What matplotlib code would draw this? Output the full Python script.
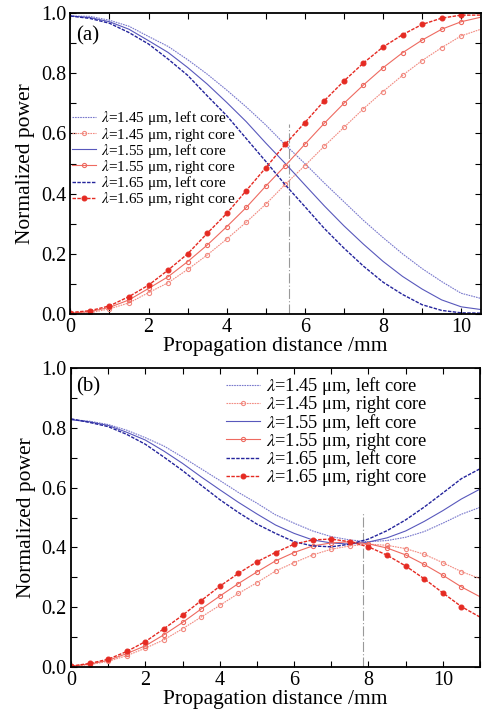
import matplotlib
matplotlib.use("Agg")
import matplotlib.pyplot as plt
import numpy as np

plt.rcParams["font.family"] = ["Liberation Serif", "DejaVu Serif"]
plt.rcParams["mathtext.fontset"] = "stix"

# ---- panel (a) data: normalized power vs propagation distance (mm)
dist_a = np.arange(0, 10.51, 0.5)
right_145_a = [0.002, 0.004, 0.017, 0.037, 0.071, 0.104, 0.148, 0.196, 0.249, 0.305, 0.365,
               0.431, 0.493, 0.558, 0.620, 0.682, 0.739, 0.793, 0.842, 0.885, 0.924, 0.946]
right_155_a = [0.003, 0.008, 0.022, 0.047, 0.085, 0.124, 0.174, 0.229, 0.290, 0.354, 0.425,
               0.493, 0.564, 0.634, 0.700, 0.761, 0.818, 0.868, 0.910, 0.946, 0.971, 0.986]
right_165_a = [0.005, 0.011, 0.027, 0.058, 0.096, 0.146, 0.200, 0.268, 0.334, 0.410, 0.486,
               0.564, 0.636, 0.709, 0.774, 0.834, 0.887, 0.928, 0.962, 0.983, 0.993, 0.993]
left_145_a = [0.990, 0.989, 0.976, 0.956, 0.922, 0.889, 0.845, 0.797, 0.744, 0.688, 0.628,
              0.562, 0.500, 0.435, 0.373, 0.311, 0.254, 0.200, 0.151, 0.108, 0.069, 0.052]
left_155_a = [0.990, 0.985, 0.971, 0.946, 0.908, 0.869, 0.819, 0.764, 0.703, 0.639, 0.568,
              0.500, 0.429, 0.359, 0.293, 0.232, 0.175, 0.125, 0.083, 0.047, 0.024, 0.015]
left_165_a = [0.990, 0.982, 0.966, 0.935, 0.897, 0.847, 0.793, 0.725, 0.659, 0.583, 0.507,
              0.429, 0.357, 0.284, 0.219, 0.159, 0.106, 0.065, 0.031, 0.012, 0.004, 0.003]
mark_a = 5.6

# ---- panel (b) data
dist_b = np.arange(0, 11.01, 0.5)
right_145_b = [0.002, 0.008, 0.019, 0.038, 0.063, 0.091, 0.128, 0.167, 0.206, 0.246, 0.282, 0.321,
               0.349, 0.375, 0.394, 0.405, 0.411, 0.407, 0.396, 0.377, 0.349, 0.319, 0.296]
right_155_b = [0.003, 0.010, 0.022, 0.045, 0.071, 0.108, 0.149, 0.194, 0.237, 0.279, 0.318, 0.355,
               0.383, 0.405, 0.415, 0.419, 0.412, 0.398, 0.375, 0.343, 0.307, 0.268, 0.235]
right_165_b = [0.003, 0.012, 0.026, 0.052, 0.085, 0.128, 0.173, 0.222, 0.270, 0.313, 0.352, 0.383,
               0.411, 0.425, 0.428, 0.419, 0.402, 0.374, 0.338, 0.295, 0.248, 0.202, 0.167]
left_145_b = [0.828, 0.822, 0.811, 0.792, 0.767, 0.739, 0.702, 0.663, 0.624, 0.584, 0.548, 0.509,
              0.481, 0.455, 0.436, 0.425, 0.419, 0.423, 0.434, 0.453, 0.481, 0.511, 0.534]
left_155_b = [0.827, 0.820, 0.808, 0.785, 0.759, 0.722, 0.681, 0.636, 0.593, 0.551, 0.512, 0.475,
              0.447, 0.425, 0.415, 0.411, 0.418, 0.432, 0.455, 0.487, 0.523, 0.562, 0.595]
left_165_b = [0.830, 0.818, 0.804, 0.778, 0.745, 0.702, 0.657, 0.608, 0.560, 0.517, 0.478, 0.447,
              0.419, 0.405, 0.402, 0.411, 0.428, 0.456, 0.492, 0.535, 0.582, 0.630, 0.663]
mark_b = 7.85

labels = [r"$\lambda$=1.45 μm, left core", r"$\lambda$=1.45 μm, right core",
          r"$\lambda$=1.55 μm, left core", r"$\lambda$=1.55 μm, right core",
          r"$\lambda$=1.65 μm, left core", r"$\lambda$=1.65 μm, right core"]

BLUE_L = "#7878cc"
BLUE_M = "#5858bc"
BLUE_D = "#24249c"
RED_L = "#f28a80"
RED_M = "#ee6a60"
RED_D = "#e52a22"


def draw(ax, x, lefts, rights, mark, mark_top, xmax, panel, leg_kw):
    n = len(x)
    me = list(range(n - 1))
    l145, l155, l165 = lefts
    r145, r155, r165 = rights
    ax.plot([mark, mark], [0, mark_top], color="#999999", lw=0.8,
            ls=(0, (9, 2, 1, 2)), zorder=1)
    ax.plot(x, l145, color=BLUE_L, lw=0.8, ls=(0, (1.5, 0.8)), label=labels[0])
    ax.plot(x, r145, color=RED_L, lw=0.8, ls=(0, (1.5, 0.8)), marker="o", ms=3,
            mfc="none", mew=0.8, markevery=me, label=labels[1])
    ax.plot(x, l155, color=BLUE_M, lw=0.8, label=labels[2])
    ax.plot(x, r155, color=RED_M, lw=0.8, marker="o", ms=3, mfc="none", mew=0.8,
            markevery=me, label=labels[3])
    ax.plot(x, l165, color=BLUE_D, lw=1.0, ls=(0, (2.5, 1)), label=labels[4])
    ax.plot(x, r165, color=RED_D, lw=1.0, ls=(0, (2.5, 1)), marker="o", ms=3.5,
            mew=0.8, markevery=me, label=labels[5])

    ax.set_xlim(0, xmax)
    ax.set_ylim(0, 1.0)
    ax.set_xticks(np.arange(0, xmax + 0.01, 1))
    ax.set_xticklabels([f"{int(t)}" if t % 2 == 0 else "" for t in np.arange(0, xmax + 0.01, 1)])
    ax.set_yticks(np.arange(0, 1.01, 0.1))
    ax.set_yticklabels([f"{t:.1f}" if i % 2 == 0 else "" for i, t in enumerate(np.arange(0, 1.01, 0.1))])
    ax.tick_params(direction="in", top=True, right=True, length=4, width=0.8,
                   labelsize=14.5, pad=3)
    for s in ax.spines.values():
        s.set_linewidth(1.3)
    ax.set_xlabel("Propagation distance /mm", fontsize=15.5, labelpad=0)
    ax.set_ylabel("Normalized power", fontsize=15.5, labelpad=4)
    ax.text(0.013, panel[1], panel[0], transform=ax.transAxes, fontsize=15,
            ha="left", va="top")
    ax.legend(frameon=False, handletextpad=0.3, borderaxespad=0, borderpad=0,
              **leg_kw)


fig = plt.figure(figsize=(4.89, 7.15), dpi=100)
ax_a = fig.add_axes([0.144, 0.5608, 0.839, 0.421])
ax_b = fig.add_axes([0.1452, 0.0671, 0.8364, 0.4182])

draw(ax_a, dist_a, (left_145_a, left_155_a, left_165_a),
     (right_145_a, right_155_a, right_165_a), mark_a, 0.63, 10.5, ("(a)", 0.955),
     dict(loc="upper left", bbox_to_anchor=(0.005, 0.68), fontsize=11,
          handlelength=1.55, labelspacing=-0.12))
draw(ax_b, dist_b, (left_145_b, left_155_b, left_165_b),
     (right_145_b, right_155_b, right_165_b), mark_b, 0.52, 11, ("(b)", 0.97),
     dict(loc="upper left", bbox_to_anchor=(0.38, 0.975), fontsize=13.2,
          handlelength=1.85, labelspacing=-0.18))

fig.savefig("out.png", dpi=100)
